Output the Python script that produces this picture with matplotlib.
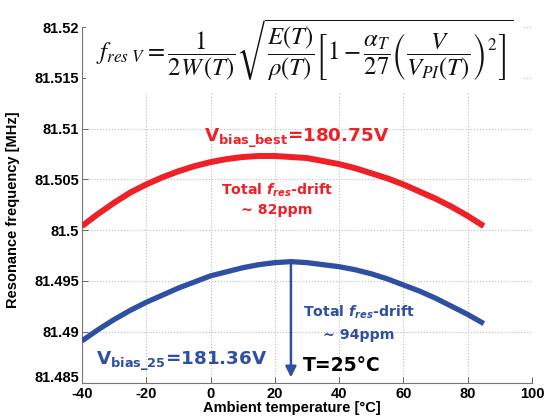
import numpy as np
import matplotlib
matplotlib.use("Agg")
import matplotlib.pyplot as plt
from matplotlib.transforms import ScaledTranslation

temp_c = [-40, -35, -30, -25, -20, -15, -10, -5, 0, 5, 10, 15, 20,
          25, 30, 35, 40, 45, 50, 55, 60, 65, 70, 75, 80, 85]
f_best = [81.5004, 81.5016, 81.5027, 81.5037, 81.5045, 81.5052, 81.5058,
          81.5063, 81.5067, 81.5070, 81.5072, 81.5073, 81.5073, 81.5072,
          81.5071, 81.5068, 81.5065, 81.5061, 81.5056, 81.5051, 81.5045,
          81.5038, 81.5031, 81.5023, 81.5014, 81.5004]
f_25 = [81.4891, 81.4902, 81.4912, 81.4921, 81.4929, 81.4936, 81.4943,
        81.4949, 81.4955, 81.4959, 81.4963, 81.4966, 81.4968, 81.4969,
        81.4968, 81.4966, 81.4964, 81.4961, 81.4957, 81.4952, 81.4946,
        81.4940, 81.4933, 81.4925, 81.4917, 81.4908]

x_ticks = [-40, -20, 0, 20, 40, 60, 80, 100]
y_ticks = [81.485, 81.49, 81.495, 81.5, 81.505, 81.51, 81.515, 81.52]
y_ticklabels = ["81.485", "81.49", "81.495", "81.5", "81.505", "81.51", "81.515", "81.52"]

t_mark = 25
f_mark_top = 81.4969
f_mark_bottom = 81.4855

RED = "#ee2127"
BLUE = "#2f4fa2"

plt.rcParams['axes.unicode_minus'] = False
plt.rcParams['mathtext.fontset'] = 'custom'
plt.rcParams['mathtext.rm'] = 'DejaVu Sans:bold'
plt.rcParams['mathtext.it'] = 'DejaVu Sans:italic:bold'
plt.rcParams['mathtext.bf'] = 'DejaVu Sans:bold'

fig = plt.figure(figsize=(5.47, 4.19), dpi=100)
ax = fig.add_axes([82/547, 1-382.5/419, 450/547, 355.5/419])

ax.plot(temp_c, f_best, color=RED, lw=4.3, solid_capstyle='butt', zorder=3)
ax.plot(temp_c, f_25, color=BLUE, lw=3.8, solid_capstyle='butt', zorder=3)

ax.annotate('', xy=(t_mark, f_mark_bottom), xytext=(t_mark, f_mark_top),
            arrowprops=dict(arrowstyle='-|>', color=BLUE, lw=1.8,
                            mutation_scale=16, shrinkA=0, shrinkB=0), zorder=4)

ax.set_xlim(-40, 100)
ax.set_ylim(81.485, 81.52)
ax.set_xticks(x_ticks)
ax.set_yticks(y_ticks)
ax.set_yticklabels(y_ticklabels)

tick_font = dict(family='Liberation Sans', weight='bold', size=10.5)
for lbl in ax.get_xticklabels() + ax.get_yticklabels():
    lbl.set_fontproperties(matplotlib.font_manager.FontProperties(**tick_font))
ax.tick_params(direction='in', length=4, width=0.7, color='#666666', pad=2)
ax.tick_params(axis='x', pad=3)
# lowest y label sits a little higher, as in the original
low_lbl = ax.get_yticklabels()[0]
low_lbl.set_transform(low_lbl.get_transform() + ScaledTranslation(0, 4/72, fig.dpi_scale_trans))

ax.grid(True, linestyle=':', color='#bdbdbd', lw=0.8)
ax.set_axisbelow(True)
for side in ['top', 'right']:
    ax.spines[side].set_visible(False)
for side in ['left', 'bottom']:
    ax.spines[side].set_color('#777777')
    ax.spines[side].set_linewidth(0.8)

ax.set_xlabel('Ambient temperature [°C]', **tick_font)
ax.xaxis.set_label_coords(0.467, -0.052)
ax.set_ylabel('Resonance frequency [MHz]', **tick_font)
ax.yaxis.set_label_coords(-0.138, 0.485)

# formula
formula = (r'$f_{res\ V}=\dfrac{1}{2W\,(T)}\sqrt{\dfrac{E(T)}{\rho(T)}'
           r'\left[1-\dfrac{\alpha_T}{27}\left(\dfrac{V}{V_{PI}(T)}\right)^2\right]}$')
fig.text(305/547, 1-50/419, formula, ha='center', va='center', fontsize=17.8,
         math_fontfamily='stix', color='#111111',
         bbox=dict(fc='white', ec='none', pad=7), zorder=5)

ann = dict(family='DejaVu Sans', weight='bold')
ax.text(26.7, 81.5087, r'V$_{\mathrm{bias\_best}}$=180.75V', color=RED,
        ha='center', va='baseline', fontsize=13.2, **ann)
ax.text(20.6, 81.5035, r'Total $f_{res}$-drift', color=RED,
        ha='center', va='baseline', fontsize=10.2, **ann)
ax.text(20.6, 81.5016, '~ 82ppm', color=RED,
        ha='center', va='baseline', fontsize=10.2, **ann)

ax.text(-35.6, 81.4867, r'V$_{\mathrm{bias\_25}}$=181.36V', color=BLUE,
        ha='left', va='baseline', fontsize=13.2, **ann)
ax.text(46.0, 81.4915, r'Total $f_{res}$-drift', color=BLUE,
        ha='center', va='baseline', fontsize=10.2, **ann)
ax.text(46.0, 81.4893, '~ 94ppm', color=BLUE,
        ha='center', va='baseline', fontsize=10.2, **ann)
ax.text(28.7, 81.4861, 'T=25°C', color='black',
        ha='left', va='baseline', fontsize=13.5, **ann)

fig.savefig('out.png', dpi=100)
